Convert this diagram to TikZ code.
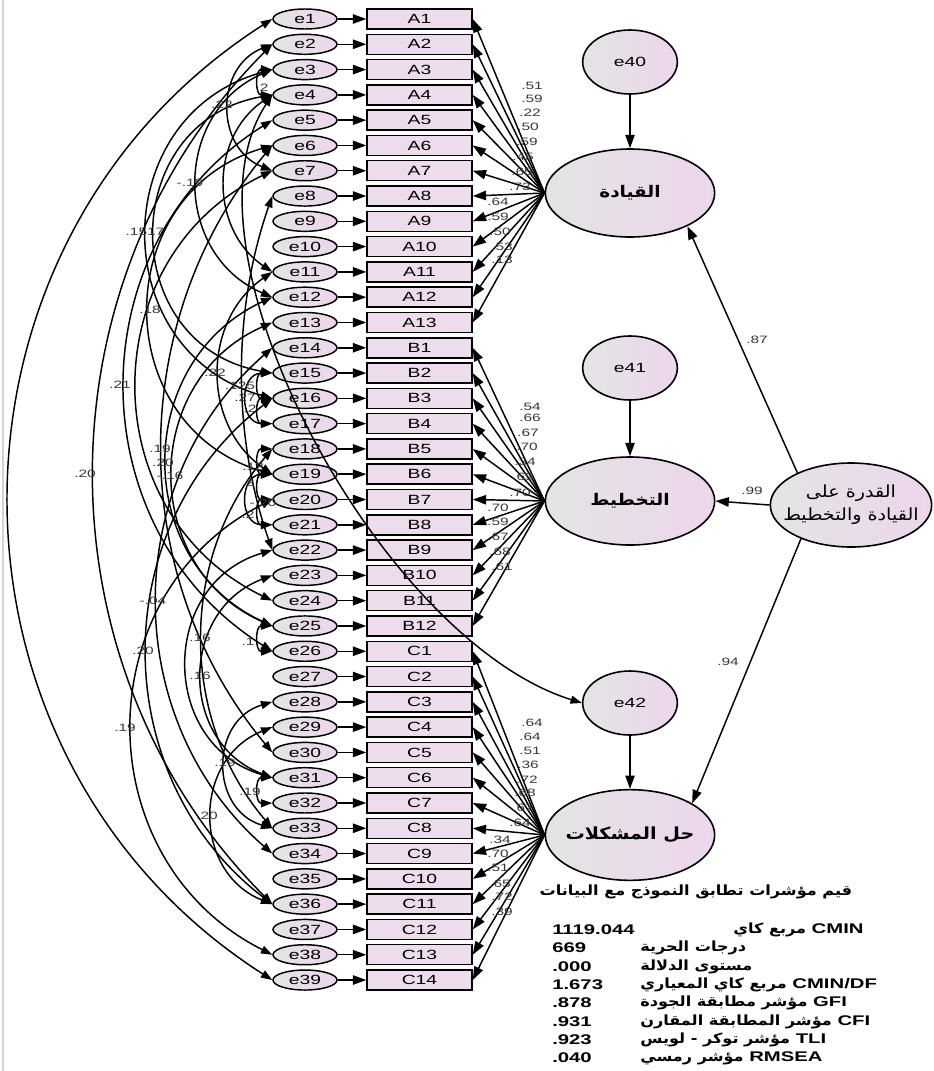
\documentclass[tikz,border=0pt]{standalone}
\usepackage{fontspec}
\setmainfont{Liberation Sans}[FakeStretch=1.45]
\newfontfamily\arabicfont[Script=Arabic,FakeStretch=1.15]{DejaVu Sans}
\TeXXeTstate=1
\usetikzlibrary{shapes.geometric,arrows.meta,calc}
\definecolor{pinkf}{RGB}{236,214,236}
\definecolor{grayf}{RGB}{228,228,228}
\definecolor{boxf}{RGB}{236,220,236}
\definecolor{lblc}{RGB}{55,55,55}
\newcommand\covarc[3]{%
  \pgfmathsetmacro\cyi{19+25.29*(#1-1)}%
  \pgfmathsetmacro\cyj{19+25.29*(#2-1)}%
  \pgfmathsetmacro\cLen{\cyj-\cyi}%
  \pgfmathsetmacro\cSag{275-#3}%
  \pgfmathsetmacro\cTh{2*atan(2*\cSag/\cLen)}%
  \pgfmathsetmacro\cRad{(\cLen/2)/sin(\cTh)}%
  \pgfmathsetmacro\cH{4/3*tan(\cTh/2)*\cRad}%
  \pgfmathsetmacro\cHx{\cH*sin(\cTh)}%
  \pgfmathsetmacro\cHy{\cH*cos(\cTh)}%
  \draw[cov] (e#1.west) .. controls +(-\cHx,\cHy) and +(-\cHx,-\cHy) .. (e#2.west);%
}
\begin{document}
\begin{tikzpicture}[x=0.75pt,y=-0.75pt,
 eov/.style={ellipse,draw,line width=1.1pt,minimum width=48pt,minimum height=15pt,inner sep=0pt,left color=grayf,right color=pinkf,font=\fontsize{10}{10}\selectfont},
 obs/.style={rectangle,draw,line width=1.1pt,minimum width=78.75pt,minimum height=15pt,inner sep=0pt,fill=boxf,font=\fontsize{10}{10}\selectfont},
 lat/.style={ellipse,draw,line width=1.2pt,minimum width=127pt,minimum height=66pt,inner sep=0pt,left color=grayf,right color=pinkf},
 err/.style={ellipse,draw,line width=1.2pt,minimum width=71pt,minimum height=48pt,inner sep=0pt,left color=grayf,right color=pinkf,font=\fontsize{10}{10}\selectfont},
 arr/.style={-{Triangle[length=10pt,width=7pt]},line width=1.1pt},
 cov/.style={{Triangle[length=8.5pt,width=6pt]}-{Triangle[length=8.5pt,width=6pt]},line width=1.1pt},
 lbl/.style={inner sep=0pt,text=lblc,font=\fontsize{8}{8}\selectfont},
 tab/.style={inner sep=0pt,anchor=west,font=\fontsize{10.5}{11}\selectfont\bfseries}
]
\useasboundingbox (0,0) rectangle (933,1071);
\fill[white] (0,0) rectangle (933,1071);
\draw[gray!35,line width=0.8pt] (3,0) -- (3,1071);

% latent variables
\node[err] (e40) at (630,62) {e40};
\node[lat] (lead) at (630,193) {\arabicfont\bfseries\fontsize{12}{12}\selectfont\beginR القيادة\endR};
\node[err] (e41) at (630,368) {e41};
\node[lat] (plan) at (630,501) {\arabicfont\bfseries\fontsize{12}{12}\selectfont\beginR التخطيط\endR};
\node[err] (e42) at (630,703) {e42};
\node[lat,minimum height=68pt,inner xsep=-12pt] (prob) at (630,835) {\arabicfont\bfseries\fontsize{12.5}{12}\selectfont\beginR حل المشكلات\endR};
\node[lat,minimum width=121pt,minimum height=63pt,inner xsep=-16pt,inner ysep=-6pt,align=center,font=\arabicfont\fontsize{12.5}{17}\selectfont] (high) at (851,505)
  {\beginR القدرة على\endR\\\beginR القيادة والتخطيط\endR};

\draw[arr] (e40) -- (lead);
\draw[arr] (e41) -- (plan);
\draw[arr] (e42) -- (prob);
\draw[arr] (high.149) -- (lead.-30);
\draw[arr] (high.west) -- (plan.east);
\draw[arr] (high.214) -- (prob.27);
\node[lbl] (p87) at (757,340) {.87};
\node[lbl] (p99) at (752,491) {.99};
\node[lbl] (p94) at (728,662) {.94};

% error ovals
\foreach \i in {1,...,39}{
  \pgfmathsetmacro\yy{19+25.29*(\i-1)}
  \node[eov] (e\i) at (305,\yy) {e\i};
}
% observed variables
\foreach \i in {1,...,13}{
  \pgfmathsetmacro\yy{19+25.29*(\i-1)}
  \node[obs] (A\i) at (419.5,\yy) {A\i};
  \draw[arr] (e\i) -- (A\i);
  \draw[arr] (lead.west) -- (A\i.east);
}
\foreach \i in {1,...,12}{
  \pgfmathtruncatemacro\rr{\i+13}
  \pgfmathsetmacro\yy{19+25.29*(\rr-1)}
  \node[obs] (B\i) at (419.5,\yy) {B\i};
  \draw[arr] (e\rr) -- (B\i);
  \draw[arr] (plan.west) -- (B\i.east);
}
\foreach \i in {1,...,14}{
  \pgfmathtruncatemacro\rr{\i+25}
  \pgfmathsetmacro\yy{19+25.29*(\rr-1)}
  \node[obs] (C\i) at (419.5,\yy) {C\i};
  \draw[arr] (e\rr) -- (C\i);
  \draw[arr] (prob.west) -- (C\i.east);
}

% loadings
\foreach \x/\y/\t [count=\k] in {532/86/.51,532/99/.59,530/113/.22,528/127/.50,527/142/.59,523/157/.45,522/172/.65,520/187/.73,498/202/.64,498/217/.59,500/232/.50,502/247/.53,502/260/.13,
 530/407/.54,530/418/.66,528/433/.67,527/447/.70,525/462/.34,523/477/.69,520/493/.70,498/508/.70,498/522/.59,498/537/.67,500/552/.68,502/567/.61,
 532/723/.64,530/737/.64,530/751/.51,528/765/.36,527/780/.72,525/793/.68,523/808/.67,520/823/.64,500/840/.34,498/854/.70,498/868/.51,500/884/.65,502/897/.72,502/912/.39}
  {\node[lbl] (ld\k) at (\x,\y) {\t};}

% covariances
\foreach \a/\b/\c in {1/39/12,2/36/97,5/26/128,3/12/200,3/16/150,4/15/158,2/7/232,6/19/152,6/30/165,12/25/170,13/25/176,14/34/160,16/36/150,18/33/205,23/31/205,20/38/135,28/33/228,31/32/262,29/36/215,11/19/222,15/16/262,15/17/250,16/17/262,18/19/262,19/20/262,19/21/250,20/21/262,25/26/262,3/4/262,4/11/228,7/24/140,8/22/245,22/31/190}
  {\covarc{\a}{\b}{\c}}
\draw[cov] (e4.west) .. controls (170,250) and (380,640) .. (e42.west);

\foreach \x/\y/\t [count=\k] in {85/474/.20,120/385/.21,190/183/-.19,145/232/.1517,222/105/.22,150/310/.18,160/449/.19,163/463/.20,170/476/-.16,153/601/-.04,143/651/.20,200/638/.16,200/676/.16,125/728/.19,225/763/.19,250/792/.19,207/816/.20,215/373/.22,240/386/.125,245/398/.27,250/409/.2,253/467/.12,248/483/.2,263/503/-.20,248/515/.2,248/642/.1,262/88/.2}
  {\node[lbl] (cv\k) at (\x,\y) {\t};}

% fit table
\node[tab,anchor=center] (t0) at (696,892) {\arabicfont\beginR قيم مؤشرات تطابق النموذج مع البيانات\endR};
\node[tab] (n1) at (552,930) {1119.044};
\node[tab] (n2) at (552,948) {669};
\node[tab] (n3) at (552,967) {.000};
\node[tab] (n4) at (552,985) {1.673};
\node[tab] (n5) at (552,1003) {.878};
\node[tab] (n6) at (552,1022) {.931};
\node[tab] (n7) at (552,1040) {.923};
\node[tab] (n8) at (552,1058) {.040};
\node[tab] (r1) at (733,930) {\beginR\beginL CMIN\endL{} {\arabicfont مربع كاي}\endR};
\node[tab] (r2) at (640,948) {\arabicfont\beginR درجات الحرية\endR};
\node[tab] (r3) at (640,967) {\arabicfont\beginR مستوى الدلالة\endR};
\node[tab] (r4) at (640,985) {\beginR\beginL CMIN/DF\endL{} {\arabicfont مربع كاي المعياري}\endR};
\node[tab] (r5) at (640,1003) {\beginR\beginL GFI\endL{} {\arabicfont مؤشر مطابقة الجودة}\endR};
\node[tab] (r6) at (640,1022) {\beginR\beginL CFI\endL{} {\arabicfont مؤشر المطابقة المقارن}\endR};
\node[tab] (r7) at (640,1040) {\beginR\beginL TLI\endL{} {\arabicfont مؤشر توكر - لويس}\endR};
\node[tab] (r8) at (640,1058) {\beginR\beginL RMSEA\endL{} {\arabicfont مؤشر رمسي}\endR};
\end{tikzpicture}
\end{document}
